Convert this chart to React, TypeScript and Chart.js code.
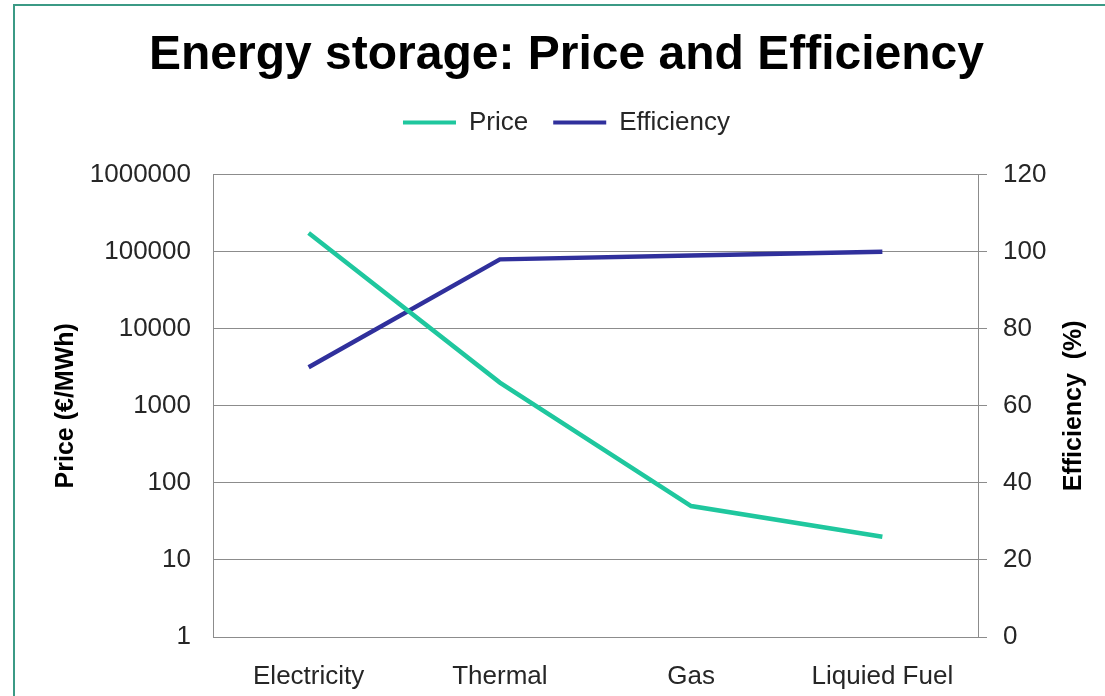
import { useEffect, useRef } from "react";
import { Chart, registerables } from "chart.js";

Chart.register(...registerables);

const categories = ["Electricity", "Thermal", "Gas", "Liquied Fuel"];
const priceValues = [175000, 2000, 50, 20];
const efficiencyValues = [70, 98, 99, 100];
const priceTicks = [1, 10, 100, 1000, 10000, 100000, 1000000];
const efficiencyTicks = [0, 20, 40, 60, 80, 100, 120];

const FONT = "'Liberation Sans', Arial, Helvetica, sans-serif";
const TEXT = "#262626";
const GRID = "#8c8c8c";
const PRICE_COLOR = "#1fc79e";
const EFF_COLOR = "#30309c";

const rightTitlePlugin = {
  id: "rightTitle",
  afterDraw(chart: any) {
    const { ctx, chartArea } = chart;
    const scale = chart.scales.y1;
    ctx.save();
    ctx.font = `bold 25px ${FONT}`;
    ctx.fillStyle = "#000";
    ctx.textAlign = "center";
    ctx.textBaseline = "middle";
    ctx.translate(scale.right - 31, (chartArea.top + chartArea.bottom) / 2);
    ctx.rotate(-Math.PI / 2);
    ctx.fillText("Efficiency  (%)", 0, 0);
    ctx.restore();
  },
};

export default function App() {
  const canvasRef = useRef<HTMLCanvasElement | null>(null);

  useEffect(() => {
    if (!canvasRef.current) return;
    const chart = new Chart(canvasRef.current, {
      type: "line",
      data: {
        labels: categories,
        datasets: [
          {
            label: "Price",
            data: priceValues,
            borderColor: PRICE_COLOR,
            backgroundColor: PRICE_COLOR,
            borderWidth: 4.5,
            pointRadius: 0,
            pointHoverRadius: 0,
            tension: 0,
            yAxisID: "y",
          },
          {
            label: "Efficiency",
            data: efficiencyValues,
            borderColor: EFF_COLOR,
            backgroundColor: EFF_COLOR,
            borderWidth: 4.5,
            pointRadius: 0,
            pointHoverRadius: 0,
            tension: 0,
            yAxisID: "y1",
          },
        ],
      },
      options: {
        responsive: false,
        animation: false,
        layout: { padding: { left: 28, right: 0, top: 0, bottom: 0 } },
        plugins: {
          tooltip: { enabled: false },
          title: {
            display: true,
            text: "Energy storage: Price and Efficiency",
            color: "#000",
            font: { family: FONT, size: 48, weight: "bold" },
            padding: { top: 27, bottom: 0 },
          },
          subtitle: {
            display: true,
            text: " ",
            weight: 500,
            font: { family: FONT, size: 10, lineHeight: 1 },
            padding: { top: 0, bottom: 19 },
          } as any,
          legend: {
            display: true,
            position: "top",
            labels: {
              boxWidth: 53,
              boxHeight: 4,
              padding: 25,
              color: TEXT,
              font: { family: FONT, size: 26 },
              generateLabels: (c: any) =>
                c.data.datasets.map((ds: any, i: number) => ({
                  text: ds.label,
                  fillStyle: ds.borderColor,
                  strokeStyle: ds.borderColor,
                  lineWidth: 0,
                  hidden: false,
                  datasetIndex: i,
                  fontColor: TEXT,
                })),
            },
          },
        },
        scales: {
          x: {
            type: "category",
            offset: true,
            grid: { display: false },
            border: { display: true, color: GRID, width: 1 },
            ticks: {
              padding: 16,
              color: TEXT,
              font: { family: FONT, size: 26 },
              maxRotation: 0,
              autoSkip: false,
            },
            afterFit: (s: any) => {
              s.height = 59;
            },
          },
          y: {
            type: "logarithmic",
            position: "left",
            min: 1,
            max: 1000000,
            afterBuildTicks: (s: any) => {
              s.ticks = priceTicks.map((v) => ({ value: v }));
            },
            ticks: {
              padding: 22,
              color: TEXT,
              font: { family: FONT, size: 26 },
              callback: (v: any) => String(v),
            },
            grid: { color: GRID, lineWidth: 1, drawTicks: false },
            border: { display: true, color: GRID, width: 1 },
            title: {
              display: true,
              text: "Price (€/MWh)",
              color: "#000",
              font: { family: FONT, size: 25, weight: "bold" },
              padding: { top: 23, bottom: 0 },
            },
            afterFit: (s: any) => {
              s.width = 185;
            },
          },
          y1: {
            type: "linear",
            position: "right",
            min: 0,
            max: 120,
            afterBuildTicks: (s: any) => {
              s.ticks = efficiencyTicks.map((v) => ({ value: v }));
            },
            ticks: {
              padding: 16,
              color: TEXT,
              font: { family: FONT, size: 26 },
            },
            grid: {
              drawOnChartArea: false,
              drawTicks: true,
              tickLength: 9,
              color: GRID,
              lineWidth: 1,
            },
            border: { display: true, color: GRID, width: 1 },
            afterFit: (s: any) => {
              s.width = 127;
            },
          },
        },
      } as any,
      plugins: [rightTitlePlugin],
    });
    return () => chart.destroy();
  }, []);

  return (
    <div
      style={{
        position: "absolute",
        left: 0,
        top: 0,
        width: 1105,
        height: 696,
        background: "#fff",
        overflow: "hidden",
      }}
    >
      <div
        style={{
          position: "absolute",
          left: 13,
          top: 4,
          right: -10,
          bottom: -10,
          borderTop: "2px solid #3b9a85",
          borderLeft: "2px solid #3b9a85",
        }}
      />
      <canvas
        ref={canvasRef}
        width={1105}
        height={696}
        style={{ position: "absolute", left: 0, top: 0, width: 1105, height: 696 }}
      />
    </div>
  );
}
